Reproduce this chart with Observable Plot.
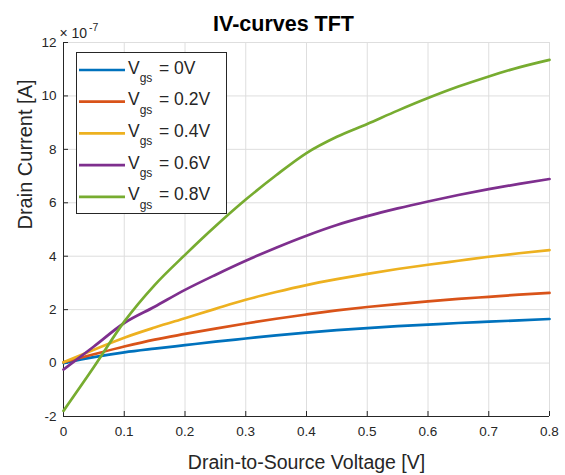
<!DOCTYPE html>
<html><head><meta charset="utf-8">
<script src="https://cdn.jsdelivr.net/npm/d3@7"></script>
<script src="https://cdn.jsdelivr.net/npm/@observablehq/plot@0.6"></script>
<style>body{margin:0;background:#fff} svg{display:block}</style>
</head><body><div id="chart"></div>
<script>
// Drain-to-source voltage samples [V]
const vds = [0, 0.05, 0.1, 0.15, 0.2, 0.25, 0.3, 0.35, 0.4, 0.45, 0.5, 0.55, 0.6, 0.65, 0.7, 0.75, 0.8];
// Drain current, units of 1e-7 A
const id_vgs0  = [0.00, 0.22, 0.40, 0.54, 0.67, 0.80, 0.92, 1.04, 1.14, 1.23, 1.31, 1.38, 1.44, 1.50, 1.55, 1.60, 1.65];
const id_vgs02 = [0.03, 0.33, 0.62, 0.88, 1.09, 1.29, 1.48, 1.66, 1.82, 1.97, 2.10, 2.21, 2.31, 2.40, 2.48, 2.56, 2.63];
const id_vgs04 = [0.03, 0.50, 0.95, 1.33, 1.68, 2.03, 2.37, 2.66, 2.92, 3.14, 3.34, 3.52, 3.68, 3.83, 3.98, 4.11, 4.23];
const id_vgs06 = [-0.24, 0.62, 1.50, 2.11, 2.74, 3.30, 3.83, 4.32, 4.77, 5.17, 5.50, 5.79, 6.05, 6.29, 6.51, 6.71, 6.89];
const id_vgs08 = [-1.79, -0.15, 1.55, 2.92, 4.05, 5.12, 6.12, 7.03, 7.86, 8.47, 8.95, 9.45, 9.92, 10.35, 10.73, 11.07, 11.35];

const seriesNames = ["0V", "0.2V", "0.4V", "0.6V", "0.8V"];
const seriesValues = [id_vgs0, id_vgs02, id_vgs04, id_vgs06, id_vgs08];
const seriesColors = ["#0072BD", "#D95319", "#EDB120", "#7E2F8E", "#77AC30"];

const xTicks = [0, 0.1, 0.2, 0.3, 0.4, 0.5, 0.6, 0.7, 0.8];
const xTickLabels = ["0", "0.1", "0.2", "0.3", "0.4", "0.5", "0.6", "0.7", "0.8"];
const yTicks = [-2, 0, 2, 4, 6, 8, 10, 12];
const yTickLabels = ["-2", "0", "2", "4", "6", "8", "10", "12"];

const titleText = "IV-curves TFT";
const xLabel = "Drain-to-Source Voltage [V]";
const yLabel = "Drain Current [A]";

const rows = [];
seriesValues.forEach((vals, s) => vals.forEach((v, i) => rows.push({vds: vds[i], id: v, s: seriesNames[s]})));

const W = 565, H = 475, mL = 63, mR = 16, mT = 42, mB = 59;
const plotW = W - mL - mR, plotH = H - mT - mB;
const ink = "#262626";
const font = "'Liberation Sans', Arial, Helvetica, sans-serif";

const plot = Plot.plot({
  width: W, height: H,
  marginLeft: mL, marginRight: mR, marginTop: mT, marginBottom: mB,
  style: {fontFamily: font, background: "#fff", color: ink},
  x: {domain: [0, 0.8]},
  y: {domain: [-2, 12]},
  color: {domain: seriesNames, range: seriesColors},
  marks: [
    Plot.gridX(xTicks, {stroke: "#dedede", strokeOpacity: 1}),
    Plot.gridY(yTicks, {stroke: "#dedede", strokeOpacity: 1}),
    Plot.axisX(xTicks, {tickSize: 0, tickPadding: 10, fontSize: 13.5, label: null,
      tickFormat: d => xTickLabels[xTicks.indexOf(d)]}),
    Plot.axisY(yTicks, {tickSize: 0, tickPadding: 7, fontSize: 13.5, label: null,
      tickFormat: d => yTickLabels[yTicks.indexOf(d)]}),
    Plot.tickX(xTicks, {x: d => d, insetTop: plotH - 5, stroke: ink}),
    Plot.tickY(yTicks, {y: d => d, insetRight: plotW - 5, stroke: ink}),
    Plot.ruleX([0], {stroke: ink}),
    Plot.ruleY([-2], {stroke: ink}),
    Plot.line(rows, {x: "vds", y: "id", stroke: "s", strokeWidth: 2.7, curve: "monotone-x"}),
    Plot.text([titleText], {text: d => d, frameAnchor: "top-left", dx: 220, dy: -12,
      textAnchor: "middle", lineAnchor: "bottom", fontSize: 21.5, fontWeight: "bold", fill: "#000"}),
    Plot.text([xLabel], {text: d => d, frameAnchor: "bottom", dy: 52,
      lineAnchor: "bottom", fontSize: 19.5, fill: ink}),
    Plot.text([yLabel], {text: d => d, frameAnchor: "left", dx: -32, rotate: -90,
      lineAnchor: "bottom", fontSize: 20, fill: ink}),
    Plot.text(["\u00d7 10"], {text: d => d, frameAnchor: "top-left", dx: -4, dy: -5,
      textAnchor: "start", lineAnchor: "bottom", fontSize: 14, fill: ink}),
    Plot.text(["-7"], {text: d => d, frameAnchor: "top-left", dx: 25.5, dy: -12,
      textAnchor: "start", lineAnchor: "bottom", fontSize: 10.5, fill: ink})
  ]
});

document.getElementById("chart").appendChild(plot);

// Legend (with subscripts)
const svg = d3.select(plot);
const g = svg.append("g").attr("font-family", font).attr("text-anchor", "start");
g.append("rect").attr("x", 76.5).attr("y", 52.5).attr("width", 150).attr("height", 161)
  .attr("fill", "#fff").attr("stroke", ink).attr("stroke-width", 1);
seriesNames.forEach((n, i) => {
  const cy = 70 + i * 31.7;
  g.append("line").attr("x1", 79).attr("x2", 125).attr("y1", cy).attr("y2", cy)
    .attr("stroke", seriesColors[i]).attr("stroke-width", 2.7);
  const t = g.append("text").attr("y", cy + 3.5).attr("fill", ink).attr("font-size", 17.5)
    .attr("text-anchor", "start");
  t.append("tspan").attr("x", 128).text("V");
  t.append("tspan").attr("dy", 8.5).attr("font-size", 12).text("gs");
  t.append("tspan").attr("x", 159).attr("dy", -8.5).attr("font-size", 17.5).text("= " + n);
});
</script>
</body></html>
